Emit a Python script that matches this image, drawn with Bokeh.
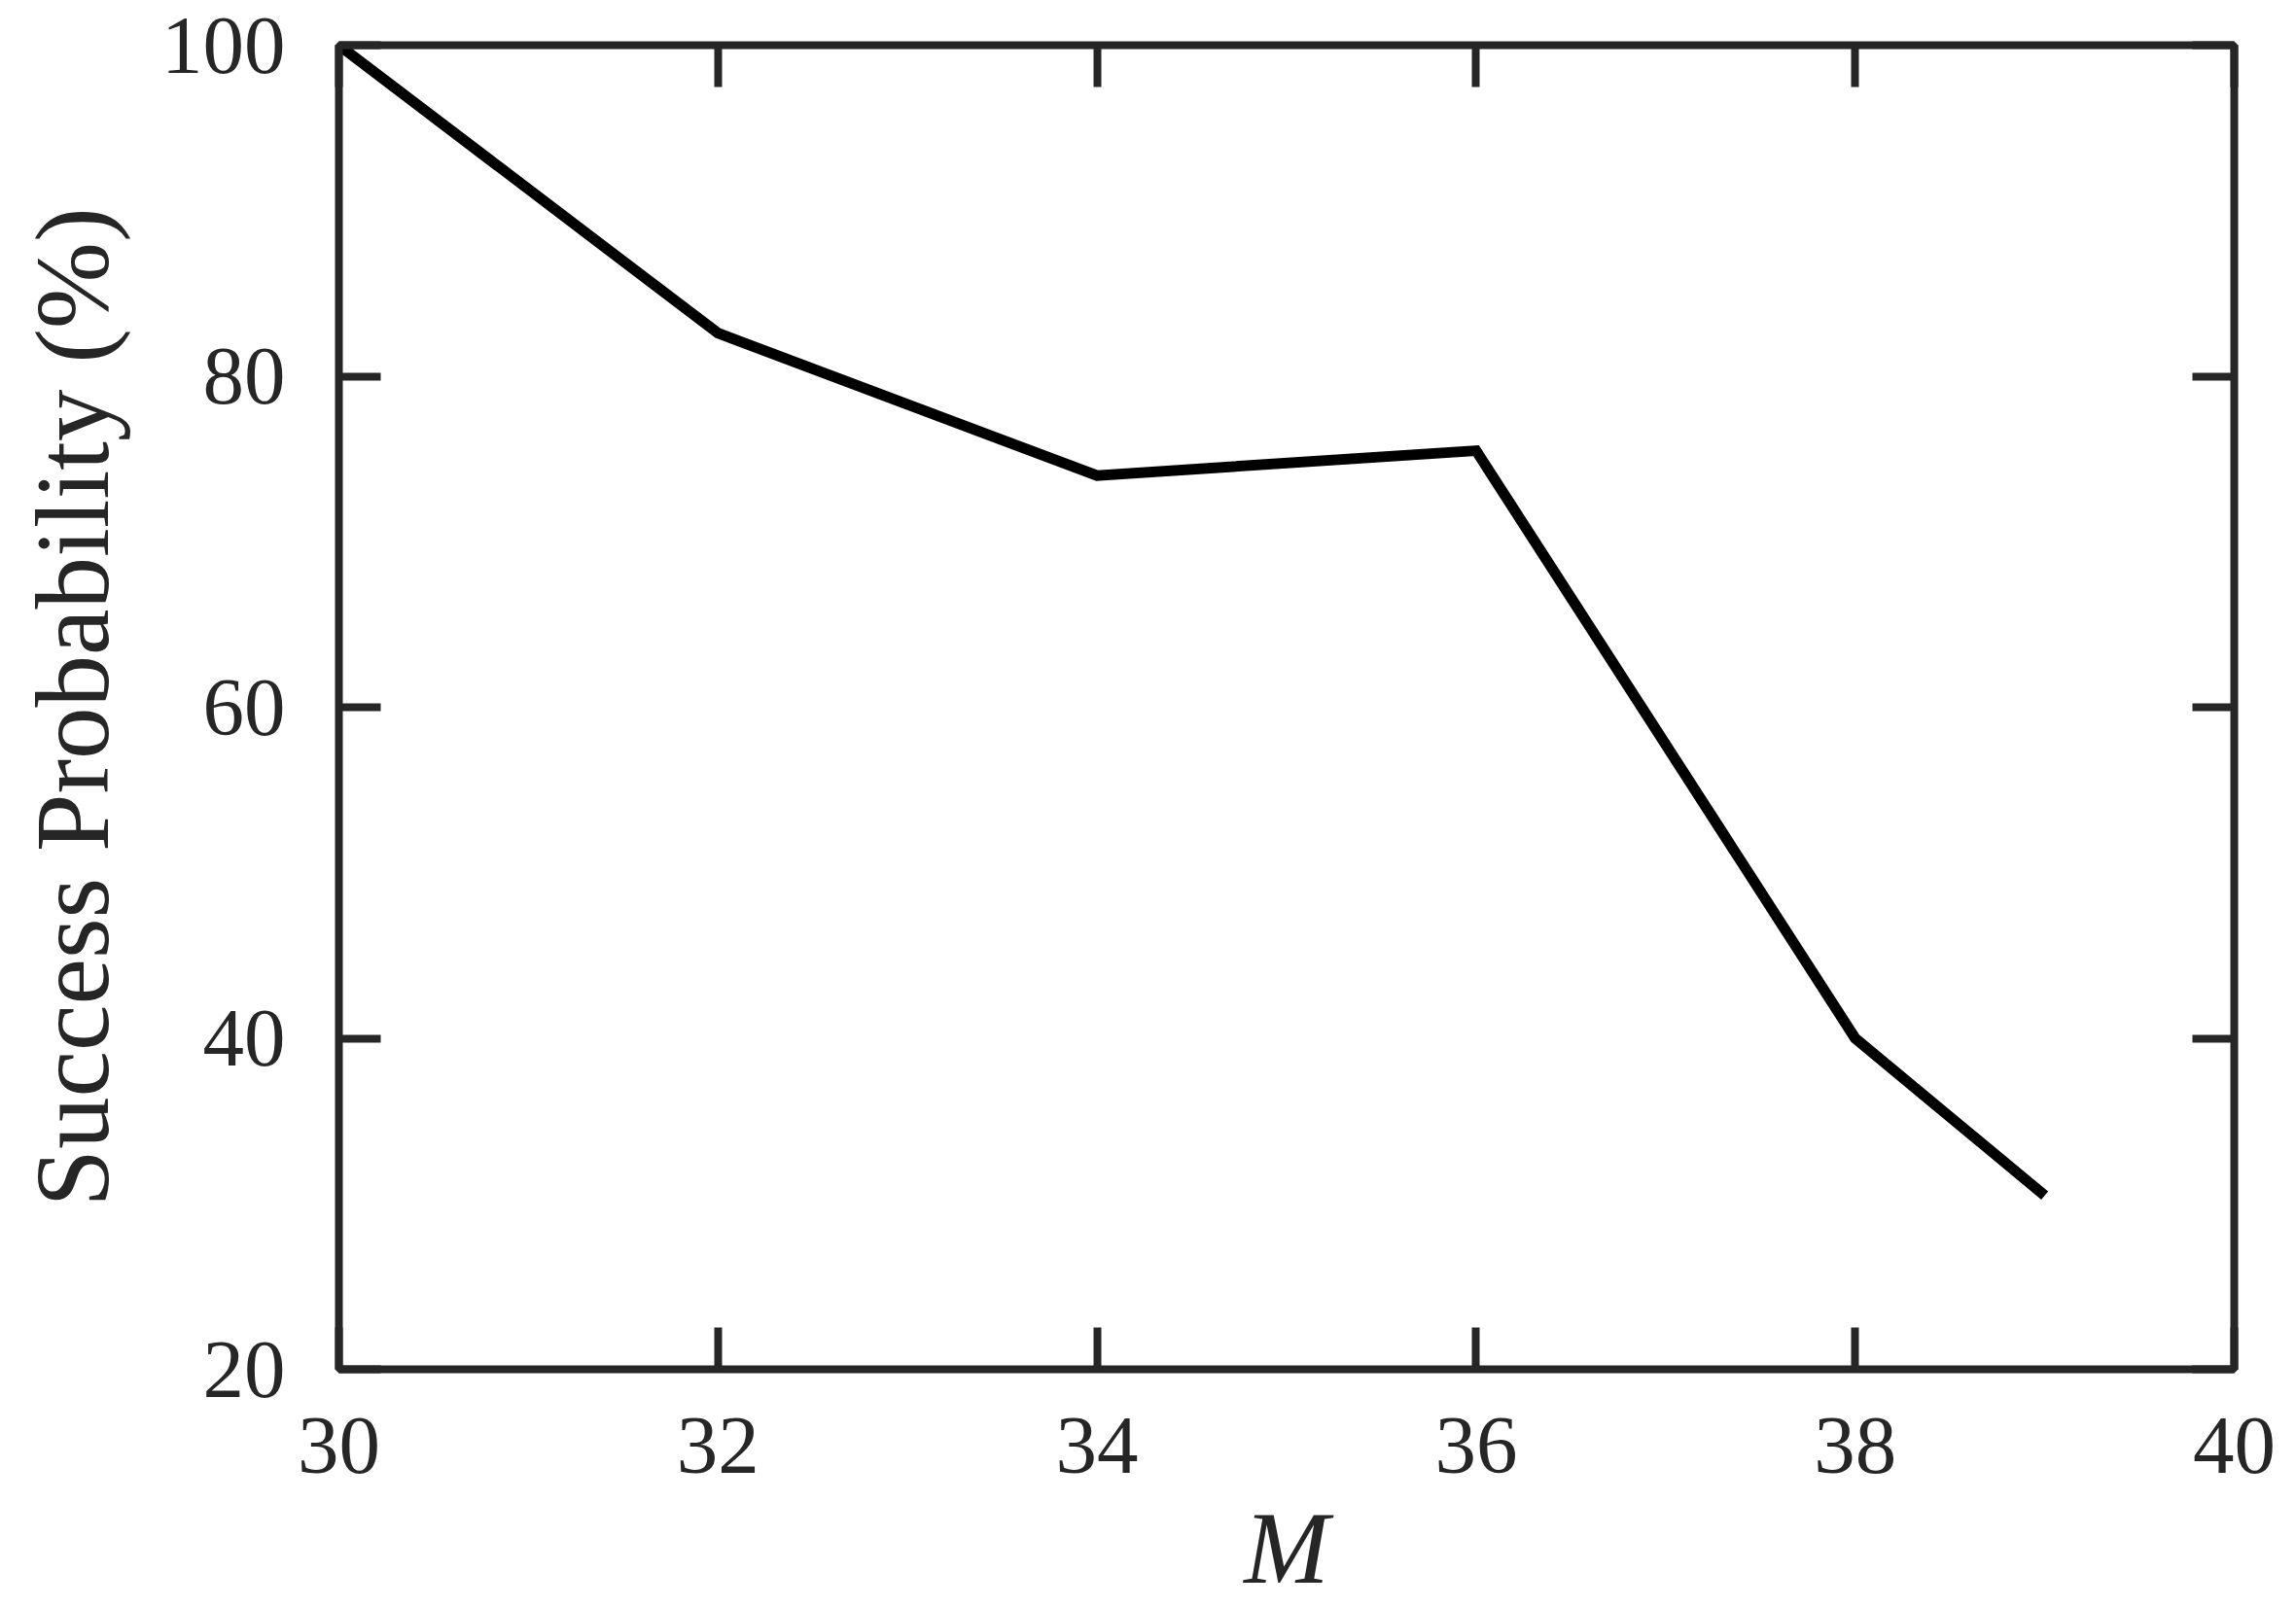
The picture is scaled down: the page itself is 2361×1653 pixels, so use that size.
from bokeh.plotting import figure
from bokeh.models import Range1d, LinearAxis, FixedTicker, CustomJSTickFormatter
from bokeh.embed import file_html
from bokeh.resources import INLINE

# data
m_values = [30, 32, 34, 36, 38, 39]
success_pct = [100.0, 82.6, 74.0, 75.5, 40.0, 30.5]
x_ticks = [30, 32, 34, 36, 38, 40]
y_ticks = [20, 40, 60, 80, 100]

FONT = "Liberation Serif"
FRAME = "#262626"

p = figure(width=2361, height=1653, output_backend="svg", toolbar_location=None,
           x_range=Range1d(30, 40), y_range=Range1d(20, 100),
           min_border_left=348, min_border_right=64, min_border_top=46, min_border_bottom=243,
           x_axis_label="M", y_axis_label="Success Probability (%)")
p.grid.visible = False
p.outline_line_color = FRAME
p.outline_line_width = 8
p.background_fill_color = "white"
p.border_fill_color = "white"

p.line(m_values, success_pct, line_color="black", line_width=11,
       line_join="miter", line_cap="butt")

def style(ax, ticks, labels=True):
    ax.ticker = FixedTicker(ticks=ticks)
    ax.axis_line_color = None
    ax.major_tick_in = 43
    ax.major_tick_out = 0
    ax.major_tick_line_width = 8
    ax.major_tick_line_color = FRAME
    ax.minor_tick_line_color = None
    ax.major_label_text_font = FONT
    ax.major_label_text_color = FRAME
    ax.major_label_text_font_size = "85px"
    ax.axis_label_text_font = FONT
    ax.axis_label_text_color = FRAME
    ax.axis_label_text_font_size = "105px"
    if not labels:
        ax.formatter = CustomJSTickFormatter(code="return ''")
        ax.major_label_standoff = 0

xa = p.xaxis[0]
ya = p.yaxis[0]
style(xa, x_ticks)
style(ya, y_ticks)
xa.major_label_standoff = 50
xa.axis_label_standoff = 16
xa.axis_label_text_font_style = "italic"
ya.major_label_standoff = 55
ya.axis_label_standoff = 29
ya.axis_label_text_font_style = "normal"
ya.axis_label_text_font_size = "107px"

top = LinearAxis()
style(top, x_ticks, labels=False)
p.add_layout(top, "above")
right = LinearAxis()
style(right, y_ticks, labels=False)
p.add_layout(right, "right")

open("out.html", "w").write(file_html(p, INLINE))
